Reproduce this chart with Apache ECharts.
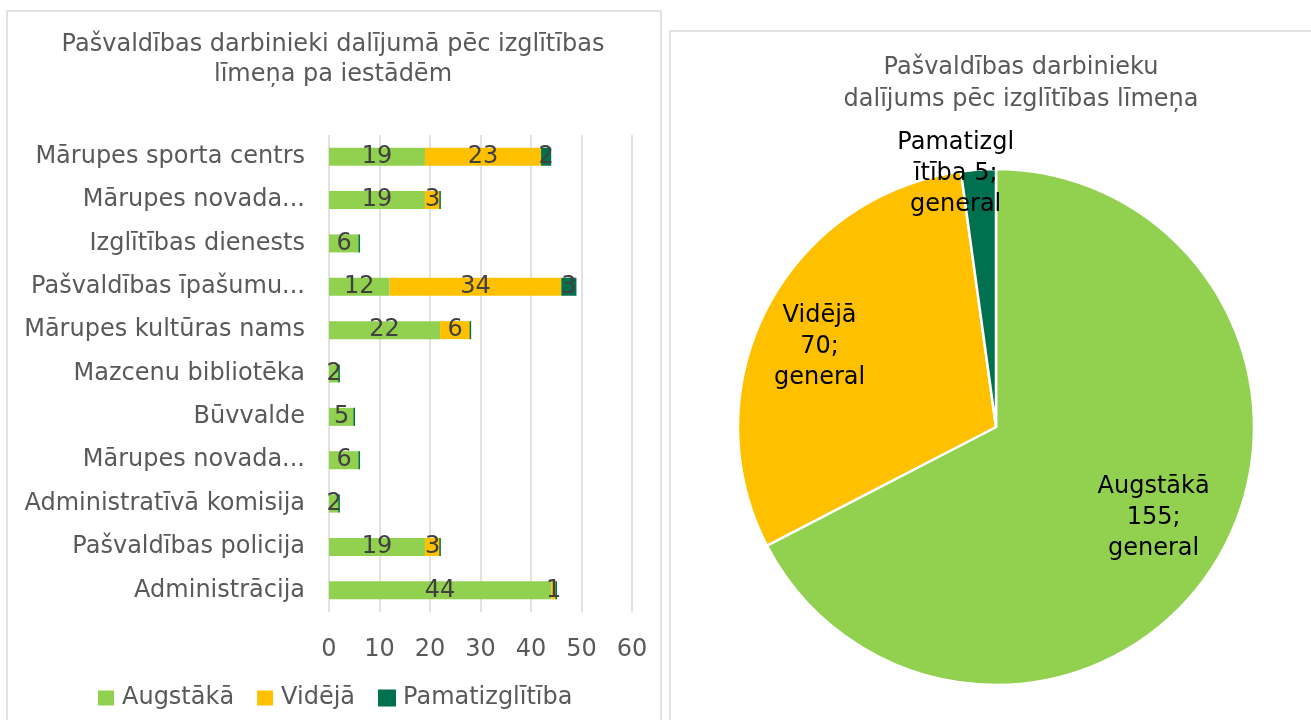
<!DOCTYPE html>
<html>
<head>
<meta charset="utf-8">
<script src="https://cdn.jsdelivr.net/npm/echarts@6/dist/echarts.min.js"></script>
<style>
html,body{margin:0;padding:0;background:#fff;}
#main{width:1311px;height:720px;}
</style>
</head>
<body>
<div id="main"></div>
<script>
// iestādes (no augšas uz leju)
var iestades = ['Mārupes sporta centrs', 'Mārupes novada...', 'Izglītības dienests', 'Pašvaldības īpašumu...',
    'Mārupes kultūras nams', 'Mazcenu bibliotēka', 'Būvvalde', 'Mārupes novada...',
    'Administratīvā komisija', 'Pašvaldības policija', 'Administrācija'];
var augstaka = [19, 19, 6, 12, 22, 2, 5, 6, 2, 19, 44];
var videja = [23, 3, 0, 34, 6, 0, 0, 0, 0, 3, 1];
var pamata = [2, 0, 0, 3, 0, 0, 0, 0, 0, 0, 0];
var xTicks = [0, 10, 20, 30, 40, 50, 60];

// kopsavilkums (pīrāgs)
var limeni = ['Augstākā', 'Vidējā', 'Pamatizglītība'];
var kopa = [155, 70, 5];

var krasas = ['#92D050', '#FFC000', '#00704F'];
var teksts = '#595959';
var fs = 24;

var myChart = echarts.init(document.getElementById('main'));

function barLabel(p) {
    return p.value ? p.value : '';
}
function barSeries(name, data, idx) {
    return {
        name: name,
        type: 'bar',
        stack: 'kopa',
        barWidth: 18,
        data: data,
        itemStyle: idx === 2 ? {color: krasas[idx], borderColor: krasas[idx], borderWidth: 1.5} : {color: krasas[idx]},
        label: {
            show: true,
            position: 'inside',
            color: '#404040',
            fontSize: fs,
            formatter: barLabel
        },
        emphasis: {disabled: true}
    };
}

var pieData = limeni.map(function (n, i) {
    return {name: n, value: kopa[i], itemStyle: {color: krasas[i]}};
});
// etiķetes lielajām daļām (ar nelielu nobīdi)
var pieLabelFix = [
    {show: true, padding: [0, 0, 0, 17]},
    {show: true, padding: [0, 43, 0, 0]},
    {show: false}
];
var pieLabelData = limeni.map(function (n, i) {
    return {name: n, value: kopa[i], label: pieLabelFix[i]};
});
// etiķete mazajai daļai (pie malas)
var pieLabelSmall = limeni.map(function (n, i) {
    return {name: n, value: kopa[i], label: {show: i === 2}};
});

var option = {
    animation: false,
    textStyle: {fontFamily: 'DejaVu Sans'},
    title: [{
        text: 'Pašvaldības darbinieki dalījumā pēc izglītības\nlīmeņa pa iestādēm',
        left: 333,
        top: 30,
        padding: 0,
        textAlign: 'center',
        textStyle: {color: teksts, fontSize: fs, fontWeight: 'normal', lineHeight: 30}
    }, {
        text: 'Pašvaldības darbinieku\ndalījums pēc izglītības līmeņa',
        left: 1021,
        top: 52,
        padding: 0,
        textAlign: 'center',
        textStyle: {color: teksts, fontSize: fs, fontWeight: 'normal', lineHeight: 32}
    }],
    graphic: [
        {type: 'rect', shape: {x: 7, y: 11, width: 654, height: 730}, style: {fill: 'none', stroke: '#d9d9d9', lineWidth: 1.5}, silent: true},
        {type: 'rect', shape: {x: 670, y: 31, width: 700, height: 730}, style: {fill: 'none', stroke: '#d9d9d9', lineWidth: 1.5}, silent: true}
    ],
    legend: {
        data: limeni,
        left: 93,
        top: 681,
        itemWidth: 16,
        itemHeight: 15,
        itemGap: 23,
        icon: 'rect',
        textStyle: {color: teksts, fontSize: fs, padding: [0, 0, 0, 3]}
    },
    grid: {left: 329, right: 679, top: 135, bottom: 108},
    xAxis: {
        type: 'value',
        min: xTicks[0],
        max: xTicks[xTicks.length - 1],
        interval: 10,
        axisLine: {show: false},
        axisTick: {show: false},
        axisLabel: {color: teksts, fontSize: fs, margin: 26},
        splitLine: {lineStyle: {color: '#d9d9d9', width: 1.5}}
    },
    yAxis: {
        type: 'category',
        inverse: true,
        data: iestades,
        axisLine: {show: false},
        axisTick: {show: false},
        axisLabel: {color: teksts, fontSize: fs, margin: 24}
    },
    series: [
        barSeries('Augstākā', augstaka, 0),
        barSeries('Vidējā', videja, 1),
        barSeries('Pamatizglītība', pamata, 2),
        {
            type: 'pie',
            center: [996, 427],
            radius: 258,
            startAngle: 90,
            data: pieData,
            itemStyle: {borderColor: '#fff', borderWidth: 2.5},
            label: {show: false},
            labelLine: {show: false},
            emphasis: {disabled: true},
            silent: true
        },
        {
            type: 'pie',
            center: [996, 427],
            radius: 343,
            startAngle: 90,
            data: pieLabelData,
            itemStyle: {color: 'rgba(0,0,0,0)'},
            label: {
                position: 'inside',
                color: '#000',
                fontSize: fs,
                lineHeight: 31,
                formatter: '{b}\n{c};\ngeneral'
            },
            labelLine: {show: false},
            emphasis: {disabled: true},
            silent: true
        },
        {
            type: 'pie',
            center: [996, 427],
            radius: 502,
            startAngle: 90,
            data: pieLabelSmall,
            itemStyle: {color: 'rgba(0,0,0,0)'},
            label: {
                position: 'inside',
                color: '#000',
                fontSize: fs,
                lineHeight: 31,
                width: 124,
                overflow: 'breakAll',
                padding: [0, 46, 0, 0],
                formatter: '{b} {c};\ngeneral'
            },
            labelLine: {show: false},
            emphasis: {disabled: true},
            silent: true
        }
    ]
};
myChart.setOption(option);
</script>
</body>
</html>
